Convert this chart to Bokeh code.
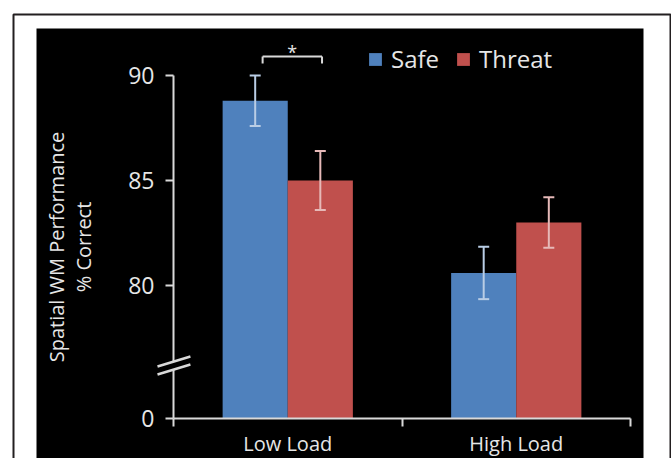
from bokeh.plotting import figure
from bokeh.models import (ColumnDataSource, Range1d, FixedTicker, CustomJSTickFormatter,
                          Whisker, TeeHead, Legend, LegendItem, BoxAnnotation, Arrow,
                          Label, PolyAnnotation)
from bokeh.embed import file_html
from bokeh.resources import INLINE

# ---- data ----
categories = ["Low Load", "High Load"]
series = ["Safe", "Threat"]
safe_means = [88.8, 80.6]
safe_err = [1.2, 1.25]
threat_means = [85.0, 83.0]
threat_err = [1.4, 1.2]
y_tick_values = [0, 80, 85, 90]

# ---- styling ----
bar_colors = ["#4f81bd", "#c0504d"]
err_colors = ["#b9cde5", "#e6b9b8"]
AXIS_COLOR = "#d9d9d9"
TEXT_COLOR = "#e6e6e6"
FONT = "Open Sans"

BREAK_ZERO = 73.667   # display position where the true 0 is drawn (broken axis)
BAR_W = 0.285
W, H = 671, 458

# view window (whole canvas is the plotting frame; axes are placed inside it)
X_LO, X_HI = -0.7571, 2.1794
Y_LO, Y_HI = 71.762, 93.571


def disp(v):
    return BREAK_ZERO if v == 0 else v


centers = [i + 0.5 for i in range(len(categories))]

p = figure(width=W, height=H,
           x_range=Range1d(X_LO, X_HI), y_range=Range1d(Y_LO, Y_HI),
           output_backend="svg", toolbar_location=None,
           min_border_left=0, min_border_right=0, min_border_top=0, min_border_bottom=0,
           background_fill_color="white", border_fill_color="white", outline_line_color=None)
p.xgrid.visible = False
p.ygrid.visible = False

# black panel and thin outer frame (canvas units)
p.add_layout(BoxAnnotation(left=36, right=643, top=28, bottom=H + 20,
                           left_units="canvas", right_units="canvas",
                           top_units="canvas", bottom_units="canvas",
                           fill_color="black", fill_alpha=1.0, line_color=None,
                           level="underlay"))
p.add_layout(PolyAnnotation(xs=[13, 13, 670, 670], ys=[H + 40, 14, 14, H + 40],
                            xs_units="canvas", ys_units="canvas",
                            fill_alpha=0.0, line_color="#231f20", line_alpha=1.0,
                            line_width=2, level="underlay"))

legend_items = []
for k, (name, means, errs) in enumerate(zip(series, [safe_means, threat_means], [safe_err, threat_err])):
    off = (k - 0.5) * BAR_W
    src = ColumnDataSource(dict(
        x=[c + off for c in centers],
        top=means,
        upper=[m + e for m, e in zip(means, errs)],
        lower=[m - e for m, e in zip(means, errs)],
    ))
    r = p.vbar(x="x", top="top", bottom=BREAK_ZERO, width=BAR_W, source=src,
               fill_color=bar_colors[k], line_color=None)
    legend_items.append(LegendItem(label=name, renderers=[r]))
    w = Whisker(source=src, base="x", upper="upper", lower="lower", level="annotation",
                line_color=err_colors[k], line_width=2,
                upper_head=TeeHead(size=11, line_color=err_colors[k], line_width=2),
                lower_head=TeeHead(size=11, line_color=err_colors[k], line_width=2))
    p.add_layout(w)

# ---- axes (fixed inside the frame) ----
p.yaxis.fixed_location = 0
p.yaxis.ticker = FixedTicker(ticks=[disp(v) for v in y_tick_values])
p.yaxis.formatter = CustomJSTickFormatter(code="return tick < 79 ? '0' : tick.toFixed(0);")
p.yaxis.bounds = (BREAK_ZERO, 90)
p.yaxis.axis_line_color = AXIS_COLOR
p.yaxis.axis_line_width = 2
p.yaxis.major_tick_line_color = AXIS_COLOR
p.yaxis.major_tick_line_width = 2
p.yaxis.major_tick_out = 8
p.yaxis.major_tick_in = 0
p.yaxis.minor_tick_line_color = None
p.yaxis.major_label_text_font = FONT
p.yaxis.major_label_text_font_size = "23px"
p.yaxis.major_label_text_color = TEXT_COLOR
p.yaxis.major_label_standoff = 11
p.yaxis.axis_label = "Spatial WM Performance\n% Correct"
p.yaxis.axis_label_text_font = FONT
p.yaxis.axis_label_text_font_size = "20px"
p.yaxis.axis_label_text_font_style = "normal"
p.yaxis.axis_label_text_color = TEXT_COLOR
p.yaxis.axis_label_text_line_height = 1.0
p.yaxis.axis_label_standoff = 28

p.xaxis.fixed_location = BREAK_ZERO
p.xaxis.ticker = FixedTicker(ticks=centers, minor_ticks=list(range(len(categories) + 1)))
p.xaxis.formatter = CustomJSTickFormatter(args=dict(labels=categories),
                                          code="return labels[Math.floor(tick)];")
p.xaxis.bounds = (0, len(categories))
p.xaxis.axis_line_color = AXIS_COLOR
p.xaxis.axis_line_width = 2
p.xaxis.major_tick_line_color = None
p.xaxis.major_tick_out = 0
p.xaxis.major_tick_in = 0
p.xaxis.minor_tick_line_color = AXIS_COLOR
p.xaxis.minor_tick_line_width = 2
p.xaxis.minor_tick_out = 8
p.xaxis.minor_tick_in = 0
p.xaxis.major_label_text_font = FONT
p.xaxis.major_label_text_font_size = "20px"
p.xaxis.major_label_text_color = TEXT_COLOR
p.xaxis.major_label_standoff = 4

# ---- axis break marks ----
p.add_layout(PolyAnnotation(xs=[-0.07, 0.074, 0.074, -0.07], ys=[76.143, 76.619, 76.238, 75.762],
                            fill_color="black", fill_alpha=1.0, line_color=None))
for ys in ([76.143, 76.619], [75.762, 76.238]):
    p.add_layout(Arrow(x_start=-0.07, y_start=ys[0], x_end=0.074, y_end=ys[1], end=None,
                       line_color=AXIS_COLOR, line_width=2.5))

# ---- significance bracket ----
bx0, bx1, by_top, by_end = 0.39, 0.65, 90.905, 90.571
for (xa, ya, xb, yb) in [(bx0, by_top, bx1, by_top), (bx0, by_top, bx0, by_end), (bx1, by_top, bx1, by_end)]:
    p.add_layout(Arrow(x_start=xa, y_start=ya, x_end=xb, y_end=yb, end=None,
                       line_color=AXIS_COLOR, line_width=2))
p.add_layout(Label(x=(bx0 + bx1) / 2, y=91.1, text="*", text_align="center",
                   text_baseline="middle", text_color=TEXT_COLOR, text_font=FONT,
                   text_font_size="18px"))

# ---- legend ----
legend = Legend(items=legend_items, orientation="horizontal", location=(367, 383),
                glyph_width=16, glyph_height=16, label_standoff=8, spacing=16,
                padding=0, margin=0, border_line_color=None, background_fill_alpha=0,
                label_text_font=FONT, label_text_font_size="24px", label_text_color=TEXT_COLOR)
p.add_layout(legend)

open("out.html", "w").write(file_html(p, INLINE))
